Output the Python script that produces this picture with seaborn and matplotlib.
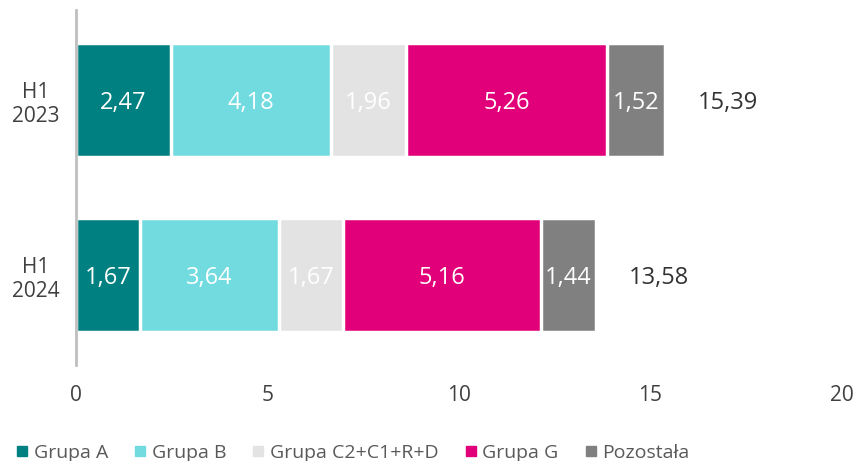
import matplotlib.pyplot as plt
from matplotlib.lines import Line2D
import seaborn as sns
import numpy as np
import pandas as pd

# data
periods = ["H1\n2023", "H1\n2024"]
groups = ["Grupa A", "Grupa B", "Grupa C2+C1+R+D", "Grupa G", "Pozostała"]
grupa_a = [2.47, 1.67]
grupa_b = [4.18, 3.64]
grupa_c = [1.96, 1.67]
grupa_g = [5.26, 5.16]
pozostala = [1.52, 1.44]
totals = [15.39, 13.58]
colors = ["#008080", "#72DBE0", "#E3E3E3", "#E2007A", "#808080"]

sns.set_theme(style="white")
plt.rcParams["font.family"] = ["Open Sans", "DejaVu Sans"]

values = np.array([grupa_a, grupa_b, grupa_c, grupa_g, pozostala])
cum = values.cumsum(axis=0)

fig, ax = plt.subplots(figsize=(8.59, 4.61), dpi=100)
fig.subplots_adjust(left=0.0885, right=0.98, bottom=0.208, top=0.978)

# stacked bars drawn back to front as cumulative sums
for i in range(len(groups) - 1, -1, -1):
    df = pd.DataFrame({"period": periods, "value": cum[i]})
    sns.barplot(data=df, x="value", y="period", orient="h", color=colors[i],
                width=0.65, edgecolor="white", linewidth=2.5, saturation=1, ax=ax)

# segment labels
for i in range(len(groups)):
    starts = cum[i] - values[i]
    for j in range(len(periods)):
        ax.text(starts[j] + values[i][j] / 2, j, f"{values[i][j]:.2f}".replace(".", ","),
                ha="center", va="center_baseline", color="white", fontsize=17)

# totals
for j, t in enumerate(totals):
    ax.text(t + 0.85, j, f"{t:.2f}".replace(".", ","), ha="left", va="center_baseline",
            color="#333333", fontsize=17)

ax.set_xlim(0, 20)
ax.set_ylim(1.514, -0.514)
ax.set_xticks([0, 5, 10, 15, 20])
ax.set_xlabel("")
ax.set_ylabel("")
ax.tick_params(axis="x", labelsize=15, colors="#404040", length=0, pad=14)
ax.tick_params(axis="y", labelsize=15, colors="#404040", length=0, pad=12)
for lbl in ax.get_yticklabels():
    lbl.set_multialignment("center")
for s in ["top", "right", "bottom"]:
    ax.spines[s].set_visible(False)
ax.spines["left"].set_color("#BFBFBF")
ax.spines["left"].set_linewidth(2)

handles = [Line2D([0], [0], marker="s", linestyle="", markersize=7,
                  markerfacecolor=c, markeredgecolor=c) for c in colors]
leg = fig.legend(handles, groups, loc="lower left", bbox_to_anchor=(-0.004, -0.04),
                 ncol=5, frameon=False, fontsize=14, handletextpad=0.2,
                 columnspacing=1.25, handlelength=0.8)
for t in leg.get_texts():
    t.set_color("#595959")

fig.savefig("out.png", dpi=100)
